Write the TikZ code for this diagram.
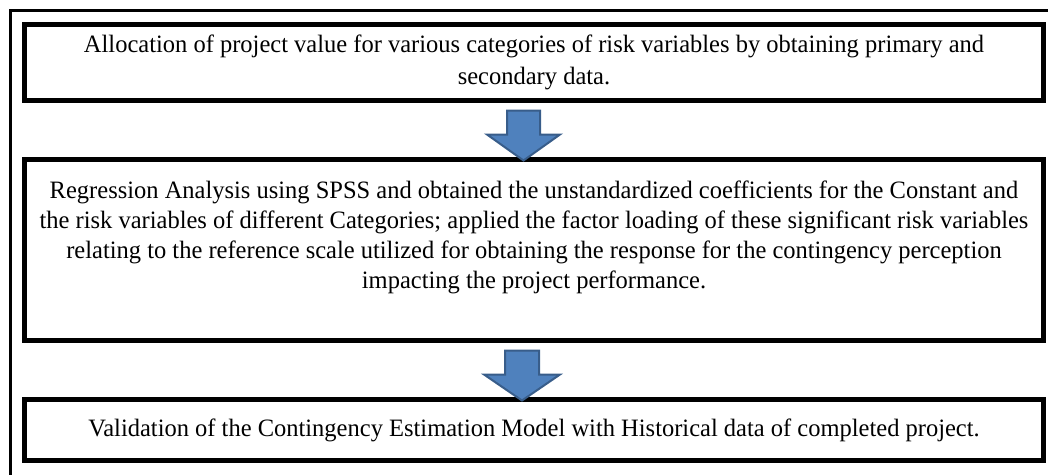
\documentclass[tikz,border=0pt]{standalone}
\usepackage{fontspec}
\setmainfont{Liberation Serif}[FakeStretch=0.98]
\definecolor{arrowfill}{HTML}{4F81BD}
\definecolor{arrowline}{HTML}{385D8A}
\tikzset{
    stage/.style={draw, line width=5pt, align=center, inner sep=0pt,
        font=\fontsize{25}{30}\selectfont, minimum width=1019pt},
    blockarrow/.style={draw=arrowline, fill=arrowfill, line width=2pt, line join=miter}
}
\begin{document}
\begin{tikzpicture}[x=1pt, y=-1pt]
            \useasboundingbox (0,0) rectangle (1048,474);
            % outer frame, cut by the page at right and bottom
            \draw[line width=3pt] (10,480) -- (10,10) -- (1060,10);

            \node[stage, minimum height=76pt, font=\fontsize{25}{32}\selectfont] (alloc) at (534,62)
                {Allocation of project value for various categories of risk variables by obtaining primary and\\
                 secondary data.};
            \node[stage, minimum height=181pt] (regress) at (534,249.5)
                {Regression Analysis using SPSS and obtained the unstandardized coefficients for the Constant and\\
                 the risk variables of different Categories; applied the factor loading of these significant risk variables\\
                 relating to the reference scale utilized for obtaining the response for the contingency perception\\
                 impacting the project performance.\\ \mbox{}};
            \node[stage, minimum height=61pt] (valid) at (534,430)
                {Validation of the Contingency Estimation Model with Historical data of completed project.};

            % block arrows between the stages
            \draw[blockarrow] (alloc.south) ++(-27,8) -- ++(33,0) -- ++(0,24) -- ++(20,0)
                -- ++(-36.5,26) -- ++(-36.5,-26) -- ++(20,0) -- cycle;
            \draw[blockarrow] (regress.south) ++(-29,8) -- ++(34,0) -- ++(0,24) -- ++(21,0)
                -- ++(-38,26) -- ++(-38,-26) -- ++(21,0) -- cycle;
        \end{tikzpicture}
\end{document}
